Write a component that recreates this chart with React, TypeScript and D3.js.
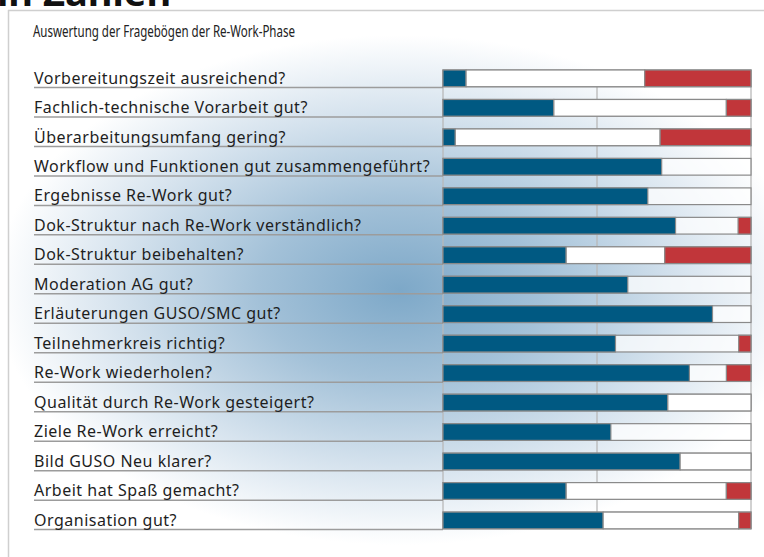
import React from "react";
import * as d3 from "d3";

const title = "Auswertung der Fragebögen der Re-Work-Phase";
const header = "in Zahlen";

const questions = [
  "Vorbereitungszeit ausreichend?",
  "Fachlich-technische Vorarbeit gut?",
  "Überarbeitungsumfang gering?",
  "Workflow und Funktionen gut zusammengeführt?",
  "Ergebnisse Re-Work gut?",
  "Dok-Struktur nach Re-Work verständlich?",
  "Dok-Struktur beibehalten?",
  "Moderation AG gut?",
  "Erläuterungen GUSO/SMC gut?",
  "Teilnehmerkreis richtig?",
  "Re-Work wiederholen?",
  "Qualität durch Re-Work gesteigert?",
  "Ziele Re-Work erreicht?",
  "Bild GUSO Neu klarer?",
  "Arbeit hat Spaß gemacht?",
  "Organisation gut?",
];

// percent "ja" (blue)
const jaValues = [7.5, 36, 4, 71, 66.5, 75.5, 40, 60, 87.5, 56, 80, 73, 54.5, 77, 40, 52];
// percent "teils" (opaque white)
const teilsValues = [58, 56, 66.5, 0, 0, 0, 32, 0, 0, 0, 0, 27, 0, 23, 52, 44];
// percent "nein" (red, anchored right)
const neinValues = [34.5, 8, 29.5, 0, 0, 4.2, 28, 0, 0, 4, 8, 0, 0, 0, 8, 4];

const gridTicks = [0, 50, 100];

const W = 764;
const H = 557;

export default function App() {
  const x = d3.scaleLinear().domain([0, 100]).range([443, 751]);
  const y = d3
    .scaleBand<string>()
    .domain(questions)
    .range([70, 528.8])
    .paddingInner(0.433)
    .paddingOuter(0);
  const bh = y.bandwidth();
  const stroke = "#8a8a8a";
  const font = "'Noto Sans', 'Open Sans', sans-serif";

  return (
    <svg
      width={W}
      height={H}
      style={{ position: "absolute", left: 0, top: 0, background: "#fff" }}
    >
      <defs>
        <radialGradient
          id="glow"
          gradientUnits="userSpaceOnUse"
          cx={400}
          cy={290}
          r={300}
          gradientTransform="translate(400 290) scale(1.35 0.85) translate(-400 -290)"
        >
          <stop offset="0" stopColor="#7da8c8" />
          <stop offset="0.35" stopColor="#a3c1d8" />
          <stop offset="0.7" stopColor="#d6e3ee" />
          <stop offset="1" stopColor="#ffffff" />
        </radialGradient>
      </defs>

      <rect x={8} y={10} width={W - 8} height={H - 10} fill="url(#glow)" />

      {/* frame */}
      <line x1={8} y1={10.5} x2={W} y2={10.5} stroke="#cfcfcf" strokeWidth={1.5} />
      <line x1={8.5} y1={10} x2={8.5} y2={H} stroke="#cfcfcf" strokeWidth={1.5} />

      {/* cut-off header (cropped in the reference too) */}
      <text x={-3} y={6} fontFamily={font} fontWeight={700} fontSize={38} fill="#111">
        {header}
      </text>

      <text
        x={33}
        y={37}
        fontFamily={font}
        fontSize={15.5}
        fill="#222"
        textLength={262}
        lengthAdjust="spacingAndGlyphs"
      >
        {title}
      </text>

      {/* vertical grid lines */}
      {gridTicks.map((t) => (
        <line
          key={t}
          x1={x(t)}
          x2={x(t)}
          y1={y(questions[0])!}
          y2={y(questions[questions.length - 1])! + bh}
          stroke="#b8b8b8"
          strokeWidth={1.3}
        />
      ))}

      {questions.map((q, i) => {
        const y0 = y(q)!;
        const ja = jaValues[i];
        const teils = teilsValues[i];
        const nein = neinValues[i];
        return (
          <g key={q}>
            <line
              x1={34}
              x2={x(0)}
              y1={y0 + bh + 0.8}
              y2={y0 + bh + 0.8}
              stroke="#9c9c9c"
              strokeWidth={1.5}
            />
            <text
              x={34}
              y={y0 + 13.6}
              fontFamily={font}
              fontSize={16}
              letterSpacing={0.5}
              fill="#1e1e1e"
            >
              {q}
            </text>
            <rect
              x={x(0)}
              y={y0}
              width={x(100) - x(0)}
              height={bh}
              fill="rgba(255,255,255,0.72)"
              stroke={stroke}
              strokeWidth={1.2}
            />
            {ja > 0 && (
              <rect
                x={x(0)}
                y={y0}
                width={x(ja) - x(0)}
                height={bh}
                fill="#005982"
                stroke={stroke}
                strokeWidth={1.2}
              />
            )}
            {teils > 0 && (
              <rect
                x={x(ja)}
                y={y0}
                width={x(ja + teils) - x(ja)}
                height={bh}
                fill="#ffffff"
                stroke={stroke}
                strokeWidth={1.2}
              />
            )}
            {nein > 0 && (
              <rect
                x={x(100 - nein)}
                y={y0}
                width={x(100) - x(100 - nein)}
                height={bh}
                fill="#c1363a"
                stroke={stroke}
                strokeWidth={1.2}
              />
            )}
          </g>
        );
      })}
    </svg>
  );
}
